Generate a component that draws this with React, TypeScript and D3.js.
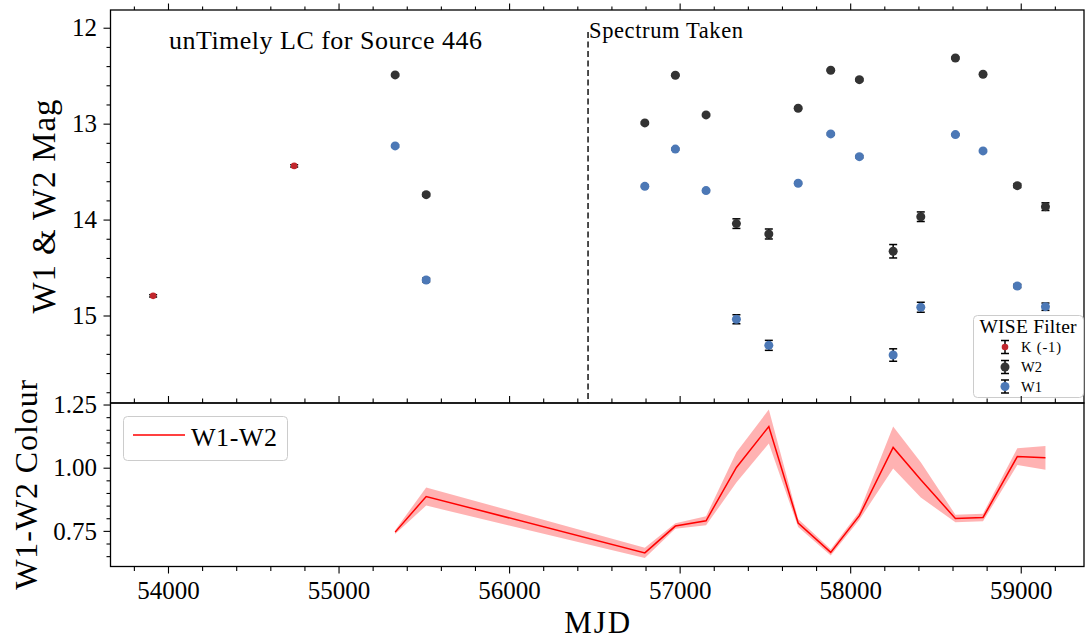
import React from 'react';
import * as d3 from 'd3';

// ---- data ----
const kMJD = [53910, 54737];
const kMag = [14.79, 13.435];
const kErr = [0.012, 0.012];

const wMJD = [55329, 55511, 56793, 56972, 57152, 57330, 57520, 57692, 57883, 58051, 58249, 58411, 58614, 58776, 58977, 59142];
const w2Mag = [12.487, 13.735, 12.987, 12.49, 12.904, 14.037, 14.145, 12.834, 12.438, 12.536, 14.325, 13.965, 12.31, 12.48, 13.641, 13.86];
const w2Err = [0.01, 0.015, 0.012, 0.01, 0.012, 0.05, 0.052, 0.012, 0.01, 0.012, 0.07, 0.05, 0.01, 0.012, 0.02, 0.04];
const w1Mag = [13.227, 14.625, 13.648, 13.26, 13.693, 15.034, 15.306, 13.616, 13.102, 13.339, 15.407, 14.909, 13.109, 13.279, 14.687, 14.903];
const w1Err = [0.012, 0.02, 0.012, 0.01, 0.012, 0.047, 0.052, 0.012, 0.01, 0.012, 0.065, 0.052, 0.01, 0.012, 0.018, 0.038];
const colour = [0.747, 0.888, 0.665, 0.771, 0.792, 1.003, 1.165, 0.783, 0.667, 0.812, 1.082, 0.954, 0.801, 0.805, 1.046, 1.041];
const colourErr = [0.007, 0.036, 0.02, 0.011, 0.018, 0.06, 0.067, 0.016, 0.012, 0.016, 0.083, 0.07, 0.015, 0.015, 0.033, 0.047];

const spectrumMJD = 56460;
const xTicks = [54000, 55000, 56000, 57000, 58000, 59000];
const magTicks = [12, 13, 14, 15];
const colTicks = [0.75, 1.0, 1.25];

const FONT = '"Liberation Serif", "DejaVu Serif", serif';
const W2C = '#333333';
const W1C = '#4c78b6';
const KC = '#c1272d';

export default function App() {
  const L = 110.5, R = 1084;
  const T1 = 10, B1 = 403, B2 = 566.5;

  const x = d3.scaleLinear().domain([53660, 59368]).range([L, R]);
  const yM = d3.scaleLinear().domain([11.81, 15.907]).range([T1, B1]);
  const yC = d3.scaleLinear().domain([1.258, 0.611]).range([B1, B2]);

  const xMinor = d3.range(53800, 59400, 200).filter((v) => v > 53660 && v < 59368);
  const mMinor = d3.range(11.8, 15.95, 0.2).map((v) => +v.toFixed(2)).filter((v) => v >= 11.81 && v <= 15.907);
  const cMinor = d3.range(0.65, 1.26, 0.05).map((v) => +v.toFixed(2)).filter((v) => v <= 1.258 && v >= 0.611);

  const idx = wMJD.map((_, i) => i);
  const area = d3.area<number>()
    .x((i) => x(wMJD[i]))
    .y0((i) => yC(colour[i] - colourErr[i]))
    .y1((i) => yC(colour[i] + colourErr[i]));
  const line = d3.line<number>().x((i) => x(wMJD[i])).y((i) => yC(colour[i]));

  const errBar = (cx: number, y0: number, y1: number, key: string) => (
    <g key={key} stroke="#000" strokeWidth={1.5}>
      <line x1={cx} x2={cx} y1={y0} y2={y1} />
      <line x1={cx - 4} x2={cx + 4} y1={y0} y2={y0} />
      <line x1={cx - 4} x2={cx + 4} y1={y1} y2={y1} />
    </g>
  );

  return (
    <svg width={1085} height={639} style={{ position: 'absolute', left: 0, top: 0, background: '#fff' }} fontFamily={FONT}>
      <rect x={0} y={0} width={1085} height={639} fill="#fff" />

      {/* ---------- top panel ---------- */}
      <text x={169} y={49} fontSize={26} textLength={313} lengthAdjust="spacing">unTimely LC for Source 446</text>
      <line x1={x(spectrumMJD)} x2={x(spectrumMJD)} y1={T1 + 22} y2={B1} stroke="#222" strokeWidth={1.6} strokeDasharray="6,3.5" />
      <text x={x(spectrumMJD) + 1} y={38} fontSize={22.5} textLength={154} lengthAdjust="spacing">Spectrum Taken</text>

      {/* error bars */}
      {kMJD.map((m, i) => errBar(x(m), yM(kMag[i] - kErr[i]), yM(kMag[i] + kErr[i]), 'ke' + i))}
      {wMJD.map((m, i) => errBar(x(m), yM(w2Mag[i] - w2Err[i]), yM(w2Mag[i] + w2Err[i]), 'w2e' + i))}
      {wMJD.map((m, i) => errBar(x(m), yM(w1Mag[i] - w1Err[i]), yM(w1Mag[i] + w1Err[i]), 'w1e' + i))}
      {/* markers */}
      {kMJD.map((m, i) => <circle key={'k' + i} cx={x(m)} cy={yM(kMag[i])} r={3.3} fill={KC} />)}
      {wMJD.map((m, i) => <circle key={'w2' + i} cx={x(m)} cy={yM(w2Mag[i])} r={4.5} fill={W2C} />)}
      {wMJD.map((m, i) => <circle key={'w1' + i} cx={x(m)} cy={yM(w1Mag[i])} r={4.5} fill={W1C} />)}

      {/* top panel frame */}
      <rect x={L} y={T1} width={R - L} height={B1 - T1} fill="none" stroke="#000" strokeWidth={1.3} />
      {xMinor.map((v) => (
        <line key={'tt' + v} x1={x(v)} x2={x(v)} y1={T1} y2={T1 - (v % 1000 === 0 ? 6.5 : 3.5)} stroke="#000" strokeWidth={1.1} />
      ))}
      {mMinor.map((v) => {
        const major = Math.abs(v - Math.round(v)) < 1e-6;
        return <line key={'ml' + v} x1={L} x2={L - (major ? 7 : 4)} y1={yM(v)} y2={yM(v)} stroke="#000" strokeWidth={1.1} />;
      })}
      {magTicks.map((v) => (
        <text key={'mt' + v} x={97} y={yM(v)} dy="0.33em" fontSize={25} textAnchor="end">{v}</text>
      ))}
      <text transform={`translate(55,${(T1 + B1) / 2}) rotate(-90)`} fontSize={33} textAnchor="middle" textLength={214} lengthAdjust="spacing">W1 &amp; W2 Mag</text>

      {/* top legend */}
      <rect x={973.5} y={315.5} width={110} height={82} rx={4} fill="#fff" fillOpacity={0.85} stroke="#cccccc" strokeWidth={1} />
      <text x={1028} y={333} fontSize={19.5} textAnchor="middle" textLength={97} lengthAdjust="spacing">WISE Filter</text>
      {errBar(1005, 340.5, 353.5, 'lk')}
      <circle cx={1005} cy={347} r={3.3} fill={KC} />
      {errBar(1005, 360.5, 373.5, 'lw2')}
      <circle cx={1005} cy={367} r={4.5} fill={W2C} />
      {errBar(1005, 380, 393, 'lw1')}
      <circle cx={1005} cy={386.5} r={4.5} fill={W1C} />
      <text x={1021} y={352} fontSize={14.5} textLength={40} lengthAdjust="spacing">K (-1)</text>
      <text x={1021} y={372} fontSize={14.5}>W2</text>
      <text x={1021} y={391.5} fontSize={14.5}>W1</text>

      {/* ---------- bottom panel ---------- */}
      <path d={area(idx) || ''} fill="#ff0000" fillOpacity={0.3} stroke="none" />
      <path d={line(idx) || ''} fill="none" stroke="#ff0000" strokeWidth={1.5} />
      <rect x={L} y={B1} width={R - L} height={B2 - B1} fill="none" stroke="#000" strokeWidth={1.3} />
      {xMinor.map((v) => {
        const len = v % 1000 === 0 ? 7 : 4.5;
        return (
          <g key={'bt' + v} stroke="#000" strokeWidth={1.1}>
            <line x1={x(v)} x2={x(v)} y1={B1} y2={B1 - len} />
            <line x1={x(v)} x2={x(v)} y1={B2} y2={B2 + len} />
          </g>
        );
      })}
      {xTicks.map((v) => (
        <text key={'xt' + v} x={x(v)} y={599} fontSize={25} textAnchor="middle">{v}</text>
      ))}
      {cMinor.map((v) => {
        const major = colTicks.some((t) => Math.abs(t - v) < 1e-6);
        return <line key={'cl' + v} x1={L} x2={L - (major ? 7 : 4)} y1={yC(v)} y2={yC(v)} stroke="#000" strokeWidth={1.1} />;
      })}
      {colTicks.map((v) => (
        <text key={'ct' + v} x={97} y={yC(v)} dy="0.33em" fontSize={25} textAnchor="end">{v.toFixed(2)}</text>
      ))}
      <text transform={`translate(36.5,${(B1 + B2) / 2}) rotate(-90)`} fontSize={32} textAnchor="middle" textLength={210} lengthAdjust="spacing">W1-W2 Colour</text>
      <text x={(L + R) / 2} y={633} fontSize={31} textAnchor="middle" textLength={66} lengthAdjust="spacing">MJD</text>

      {/* bottom legend */}
      <rect x={123.5} y={416.5} width={164} height={44} rx={4} fill="#fff" fillOpacity={0.85} stroke="#cccccc" strokeWidth={1} />
      <line x1={133} x2={185} y1={435} y2={435} stroke="#ff0000" strokeWidth={1.5} />
      <text x={191} y={446} fontSize={26} textLength={86} lengthAdjust="spacing">W1-W2</text>
    </svg>
  );
}
